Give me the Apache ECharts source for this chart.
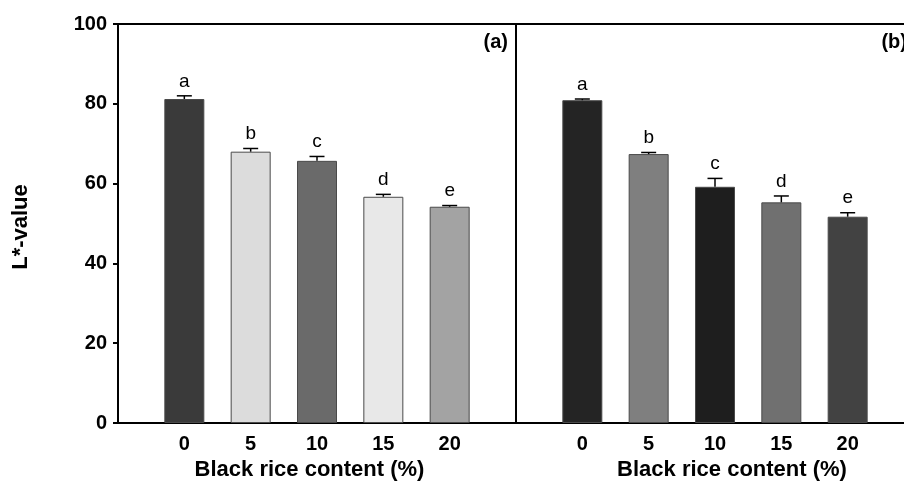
<!DOCTYPE html>
<html>
<head>
<meta charset="utf-8">
<script src="https://cdn.jsdelivr.net/npm/echarts@6/dist/echarts.min.js"></script>
<style>
html,body{margin:0;padding:0;background:#fff;}
#chart{width:904px;height:483px;}
</style>
</head>
<body>
<div id="chart"></div>
<script>
const contents = [0, 5, 10, 15, 20];
const letters = ['a', 'b', 'c', 'd', 'e'];
const valuesA = [81.2, 68.0, 65.7, 56.7, 54.2];
const errorsA = [0.8, 0.8, 1.1, 0.6, 0.3];
const valuesB = [80.9, 67.4, 59.2, 55.3, 51.7];
const errorsB = [0.3, 0.4, 2.1, 1.6, 1.0];
const colorsA = ['#3a3a3a', '#dcdcdc', '#6a6a6a', '#e8e8e8', '#a3a3a3'];
const colorsB = ['#242424', '#7f7f7f', '#1e1e1e', '#707070', '#424242'];
const panelLabels = ['(a)', '(b)'];
const xName = 'Black rice content (%)';
const yName = 'L*-value';

const FONT = '"Liberation Sans", Arial, Helvetica, sans-serif';

function barData(vals, colors) {
  return vals.map((v, i) => ({
    value: [contents[i], v],
    itemStyle: { color: colors[i] }
  }));
}
function errData(vals, errs) {
  return vals.map((v, i) => [contents[i], v, errs[i], letters[i]]);
}
function renderErr(params, api) {
  const x = api.value(0), v = api.value(1), e = api.value(2);
  const letter = letters[params.dataIndex];
  const p0 = api.coord([x, v]);
  const p1 = api.coord([x, v + e]);
  const half = 7.5;
  return {
    type: 'group',
    children: [
      { type: 'line', shape: { x1: p0[0], y1: p0[1], x2: p1[0], y2: p1[1] },
        style: { stroke: '#000', lineWidth: 1.5 } },
      { type: 'line', shape: { x1: p1[0] - half, y1: p1[1], x2: p1[0] + half, y2: p1[1] },
        style: { stroke: '#000', lineWidth: 1.5 } },
      { type: 'text', x: p1[0], y: p1[1] - 5,
        style: { text: letter, fill: '#000', font: '19px ' + FONT,
                 textAlign: 'center', textVerticalAlign: 'bottom' } }
    ]
  };
}

function xAxisCfg(gridIndex, pad) {
  return {
    type: 'value', gridIndex: gridIndex, min: -5, max: 25, interval: 5,
    axisLine: { show: false, onZero: false }, axisTick: { show: false }, splitLine: { show: false },
    axisLabel: {
      margin: 11, color: '#000', fontSize: 20, fontWeight: 'bold', fontFamily: FONT,
      formatter: function (v) { return contents.indexOf(v) >= 0 ? String(v) : ''; }
    },
    name: xName, nameLocation: 'middle', nameGap: 34,
    nameTextStyle: { color: '#000', fontSize: 22, fontWeight: 'bold', fontFamily: FONT, padding: pad }
  };
}

const chart = echarts.init(document.getElementById('chart'), null, { renderer: 'canvas' });
chart.setOption({
  animation: false,
  backgroundColor: '#fff',
  grid: [
    { left: 118, top: 24, width: 398, height: 399, show: true, borderColor: '#000', borderWidth: 2,
      backgroundColor: 'transparent', containLabel: false, outerBoundsMode: 'none' },
    { left: 516, top: 24, width: 398, height: 399, show: true, borderColor: '#000', borderWidth: 2,
      backgroundColor: 'transparent', containLabel: false, outerBoundsMode: 'none' }
  ],
  xAxis: [ xAxisCfg(0, [0, 15, 0, 0]), xAxisCfg(1, [0, 0, 0, 34]) ],
  yAxis: [
    { type: 'value', gridIndex: 0, min: 0, max: 100, interval: 20,
      axisLine: { show: true, onZero: false, lineStyle: { color: '#000', width: 2 } },
      axisTick: { show: true, length: 5, lineStyle: { color: '#000', width: 2 } },
      splitLine: { show: false },
      axisLabel: { margin: 11, color: '#000', fontSize: 20, fontWeight: 'bold', fontFamily: FONT } },
    { type: 'value', gridIndex: 1, min: 0, max: 100, interval: 20,
      axisLine: { show: false, onZero: false }, axisTick: { show: false }, splitLine: { show: false },
      axisLabel: { show: false } }
  ],
  graphic: [
    { type: 'text', x: 21, y: 227, rotation: Math.PI / 2,
      style: { text: yName, fill: '#000', font: 'bold 22px ' + FONT, textAlign: 'center', textVerticalAlign: 'middle' } },
    { type: 'text', x: 508, y: 42,
      style: { text: panelLabels[0], fill: '#000', font: 'bold 20px ' + FONT, textAlign: 'right', textVerticalAlign: 'middle' } },
    { type: 'text', x: 907, y: 42,
      style: { text: panelLabels[1], fill: '#000', font: 'bold 20px ' + FONT, textAlign: 'right', textVerticalAlign: 'middle' } }
  ],
  series: [
    { type: 'bar', xAxisIndex: 0, yAxisIndex: 0, barWidth: 40,
      itemStyle: { borderColor: '#4a4a4a', borderWidth: 1 },
      data: barData(valuesA, colorsA) },
    { type: 'custom', xAxisIndex: 0, yAxisIndex: 0, renderItem: renderErr,
      data: errData(valuesA, errorsA), z: 5 },
    { type: 'bar', xAxisIndex: 1, yAxisIndex: 1, barWidth: 40,
      itemStyle: { borderColor: '#4a4a4a', borderWidth: 1 },
      data: barData(valuesB, colorsB) },
    { type: 'custom', xAxisIndex: 1, yAxisIndex: 1, renderItem: renderErr,
      data: errData(valuesB, errorsB), z: 5 }
  ]
});
</script>
</body>
</html>
